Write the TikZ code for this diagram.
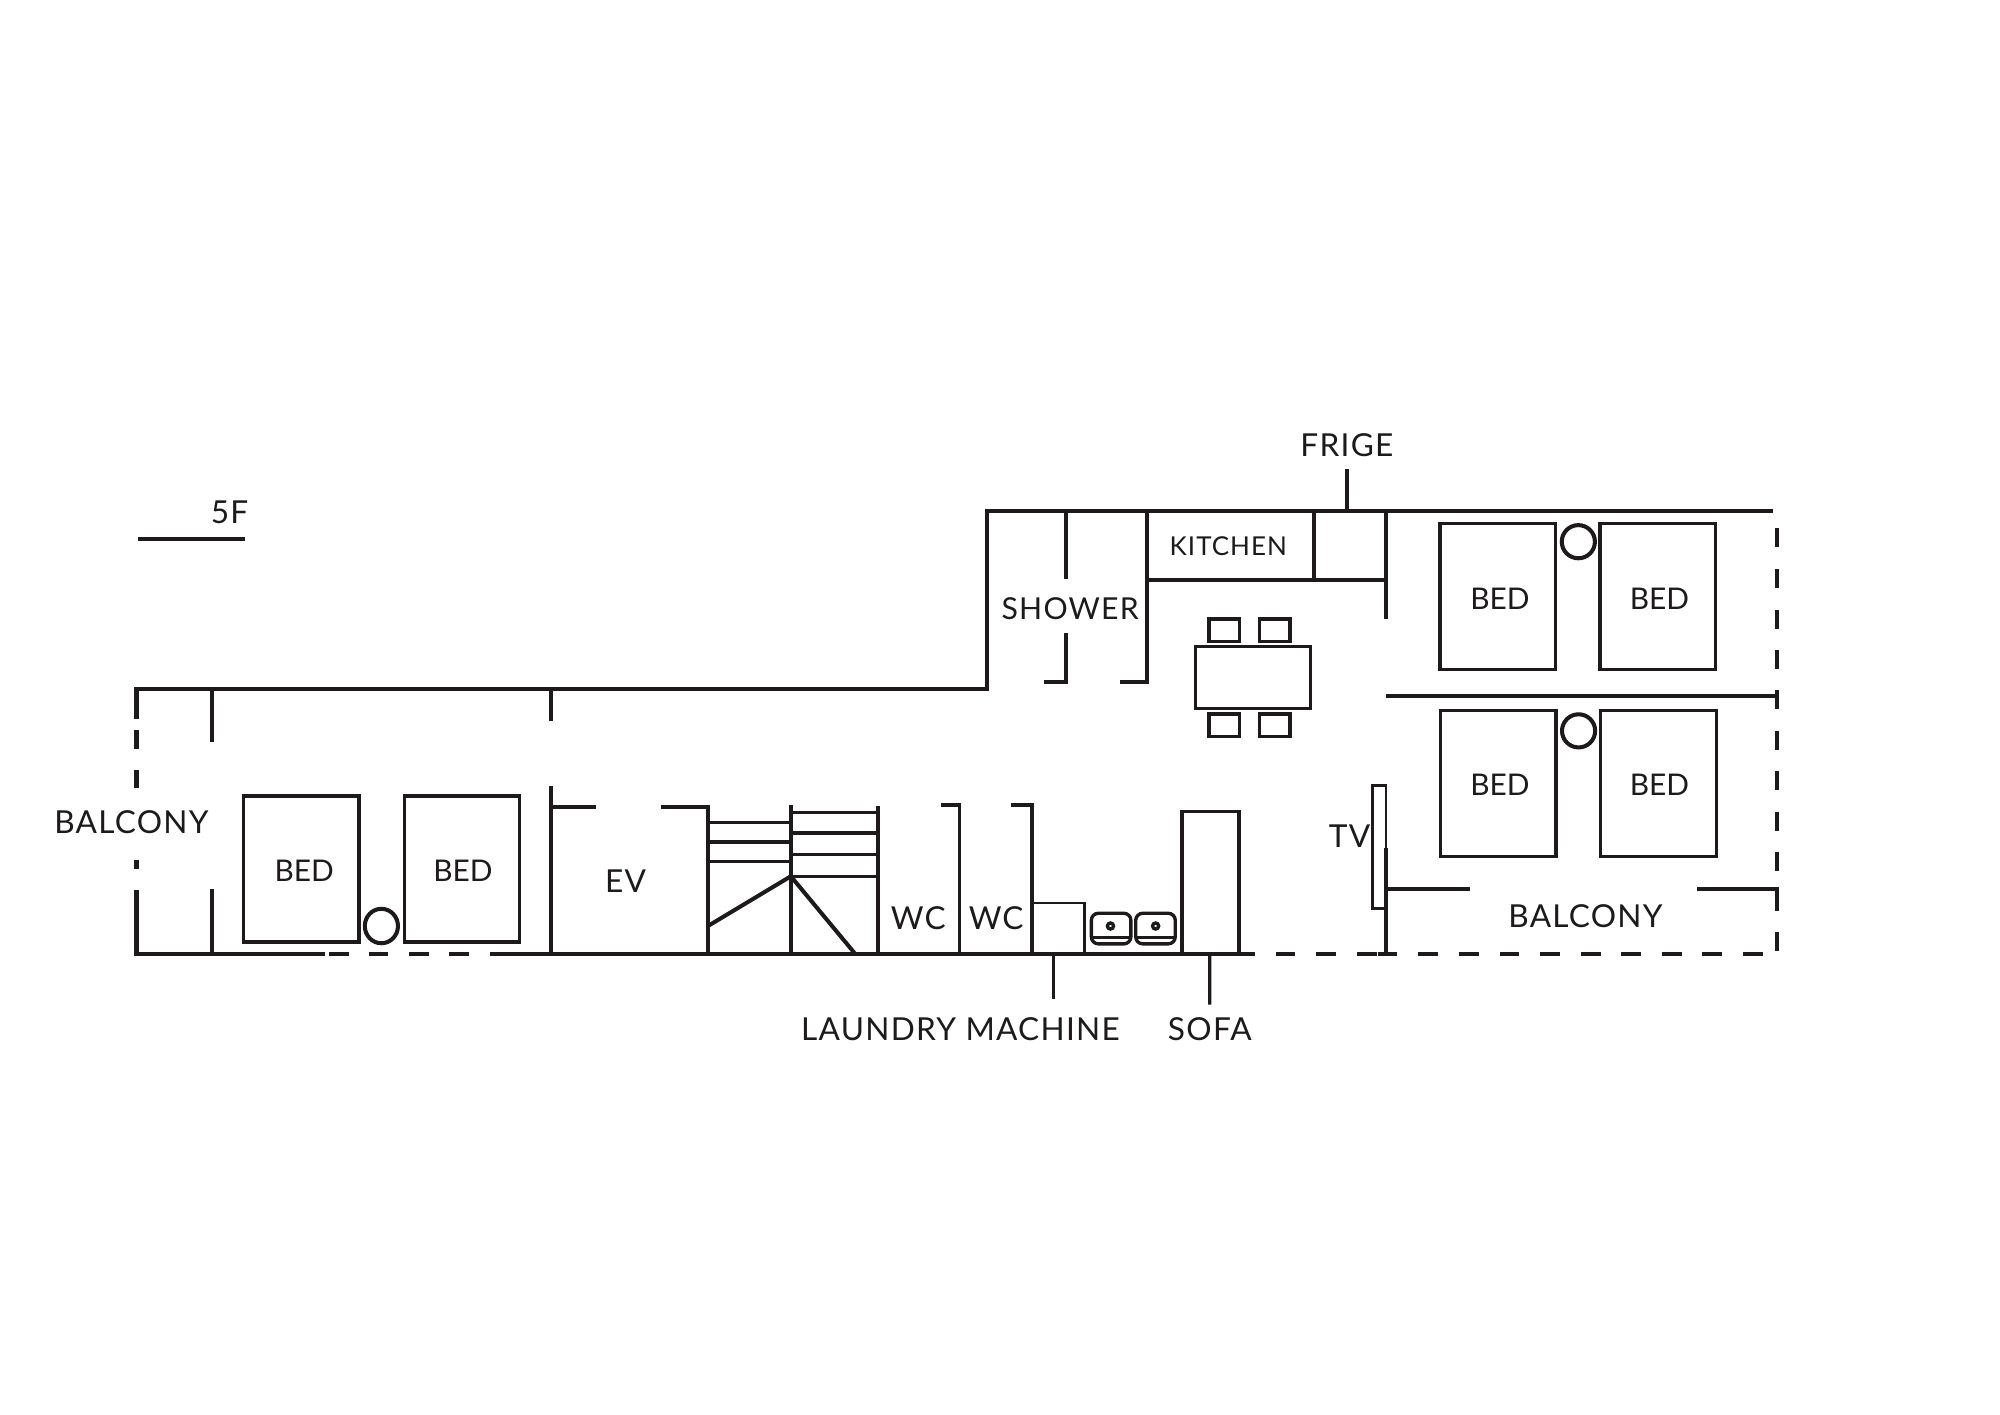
\documentclass[tikz,border=0pt]{standalone}
\usepackage{fontspec}
\usepackage{xcolor}
\usepackage{tikz}
\usetikzlibrary{calc,positioning}
\setmainfont{Lato}
\newfontfamily\wideface[LetterSpace=4]{Lato}
\definecolor{ink}{HTML}{1C1A1A}
\tikzset{
  wall/.style={ink,line width=1.15pt},
  thinwall/.style={ink,line width=0.95pt},
  furniture/.style={ink,line width=0.95pt},
  hairline/.style={ink,line width=0.8pt},
  tag/.style={text=ink,font=\wideface\fontsize{9}{11}\selectfont},
  showertag/.style={text=ink,font=\wideface\fontsize{8.6}{10}\selectfont},
  smalltag/.style={text=ink,font=\wideface\fontsize{7.4}{9}\selectfont},
  bedtag/.style={text=ink,font=\fontsize{8.5}{10}\selectfont}
}
\begin{document}
\begin{tikzpicture}[x=0.012755cm,y=-0.012755cm]
  \useasboundingbox (0,0) rectangle (1568,1109);
  \draw[wall] (107,564) -- (107,540) -- (773.5,540) -- (773.5,400.5) -- (1390,400.5);
  \draw[wall] (107,698) -- (107,748) -- (255,748);
  \draw[wall] (384,748) -- (984,748);
  \draw[wall] (1086.6,400.5) -- (1086.6,485.6);
  \draw[wall] (1086.6,665) -- (1086.6,748);
  \draw[wall] (1080,748) -- (1095,748);
  \draw[wall] (1086.6,545.4) -- (1393,545.4);
  % dashed runs are drawn one piece at a time
  \foreach \y/\z in {572/587,604/618,674/681}
  \draw[wall] (107,\y) -- (107,\z);
  \foreach \x in {258,289,321,352}
  \draw[wall] (\x,748) -- (\x+15.5,748);
  \foreach \x in {1000,1032,1064,1112,1143.9,1175.7,1207.5,1239.3,1271.1,1302.9,1334.7,1366.5}
  \draw[wall] (\x,748) -- (\x+15.5,748);
  \foreach \y in {414,446,478,509.5,541,573,604.5,636.4,667.7,731}
  \draw[wall] (1393,\y) -- (1393,\y+14.8);
  \draw[wall] (166,540) -- (166,582);
  \draw[wall] (166,697) -- (166,748);
  \draw[wall] (432,540) -- (432,565);
  \draw[wall] (432,616) -- (432,748);
  \draw[wall] (432,633) -- (467,633);
  \draw[wall] (518,633) -- (555,633) -- (555,748);
  \draw[wall] (620,631) -- (620,748);
  \draw[wall] (688,632) -- (688,748);
  \foreach \y in {644.7,660,675.5}
  \draw[thinwall] (555,\y) -- (620,\y);
  \foreach \y in {637,653,670,687}
  \draw[thinwall] (620,\y) -- (688,\y);
  \draw[wall] (555,726) -- (620,687) -- (670.6,748);
  \draw[thinwall] (738,631) -- (752,631) -- (752,748);
  \draw[thinwall] (793,631) -- (809,631) -- (809,748);
  \draw[wall] (836,400.5) -- (836,454.2);
  \draw[wall] (836,496) -- (836,534.4) -- (818.7,534.4);
  \draw[wall] (899.5,400.5) -- (899.5,534.4) -- (878,534.4);
  \draw[wall] (899.5,454.7) -- (1086.6,454.7);
  \draw[wall] (1030,400.5) -- (1030,454.7);
  \draw[wall] (1087,696.7) -- (1152.4,696.7);
  \draw[wall] (1330.6,697) -- (1393,697) -- (1393,714);
  \foreach \x/\y in {191/624,317/624,1129/410.3,1254.5/410.3,1129.5/557,1255/557}
  \draw[furniture] (\x,\y) rectangle +(90.5,114.5);
  \draw[furniture] (937.3,507) rectangle (1027.5,555.3);
  \foreach \x/\y in {947.8/485.3,987.5/485.3,947.8/559.8,987.5/559.8}
  \draw[furniture] (\x,\y) rectangle +(23.8,17.8);
  \draw[hairline] (1076,616) rectangle (1086.6,712);
  \draw[hairline] (809,708) rectangle (850,748);
  \draw[furniture] (926.6,636.3) rectangle (971.4,748);
  \foreach \x/\y in {1237.4/424.7,1237.6/573}
  \draw[wall] (\x,\y) circle [radius=13];
  \draw[wall] (299,726) circle [x radius=13,y radius=13.5];
  \foreach \x/\c in {855.6/870.6,890.4/906}
  {
    \draw[thinwall,rounded corners=2pt] (\x,716) rectangle +(31,24);
    \draw[thinwall] (\x,735) -- +(31,0);
    \draw[thinwall] (\c,726) circle [radius=2.4];
  }
  \draw[wall] (108,422.5) -- (192,422.5);
  \node[tag] (floor) at (180,401.5) {5F};
  \node[tag] (balconyw) at (103,644.5) {BALCONY};
  \node[bedtag] (bedw) at (238.5,682.5) {BED};
  \node[bedtag] (bedx) at (363,682.5) {BED};
  \node[tag] (ev) at (490.5,690.5) {EV};
  \node[tag] (wca) at (720,719.5) {WC};
  \node[tag] (wcb) at (781,719.5) {WC};
  \node[tag] (laundry) at (753,806.5) {LAUNDRY MACHINE};
  \node[tag] (sofa) at (948.5,806.5) {SOFA};
  \node[showertag] (shower) at (839,477.5) {SHOWER};
  \node[smalltag] (kitchen) at (963,428.5) {KITCHEN};
  \node[tag] (frige) at (1056,349) {FRIGE};
  \node[tag] (tv) at (1058,655.5) {TV};
  \node[bedtag] (beda) at (1176,469.5) {BED};
  \node[bedtag] (bedb) at (1301,469.5) {BED};
  \node[bedtag] (bedc) at (1176,615.5) {BED};
  \node[bedtag] (bedd) at (1301,615.5) {BED};
  \node[tag] (balconye) at (1243,718.5) {BALCONY};
  \coordinate (frigewall) at (1056,400.5);
  \coordinate (washer) at (826,748);
  \coordinate (washerend) at (826,783.4);
  \coordinate (couch) at (948.4,748);
  \draw[thinwall] (frige) -- (frigewall);
  \draw[thinwall] (couch) -- (sofa);
  \draw[thinwall] (washer) -- (washerend);
\end{tikzpicture}
\end{document}
